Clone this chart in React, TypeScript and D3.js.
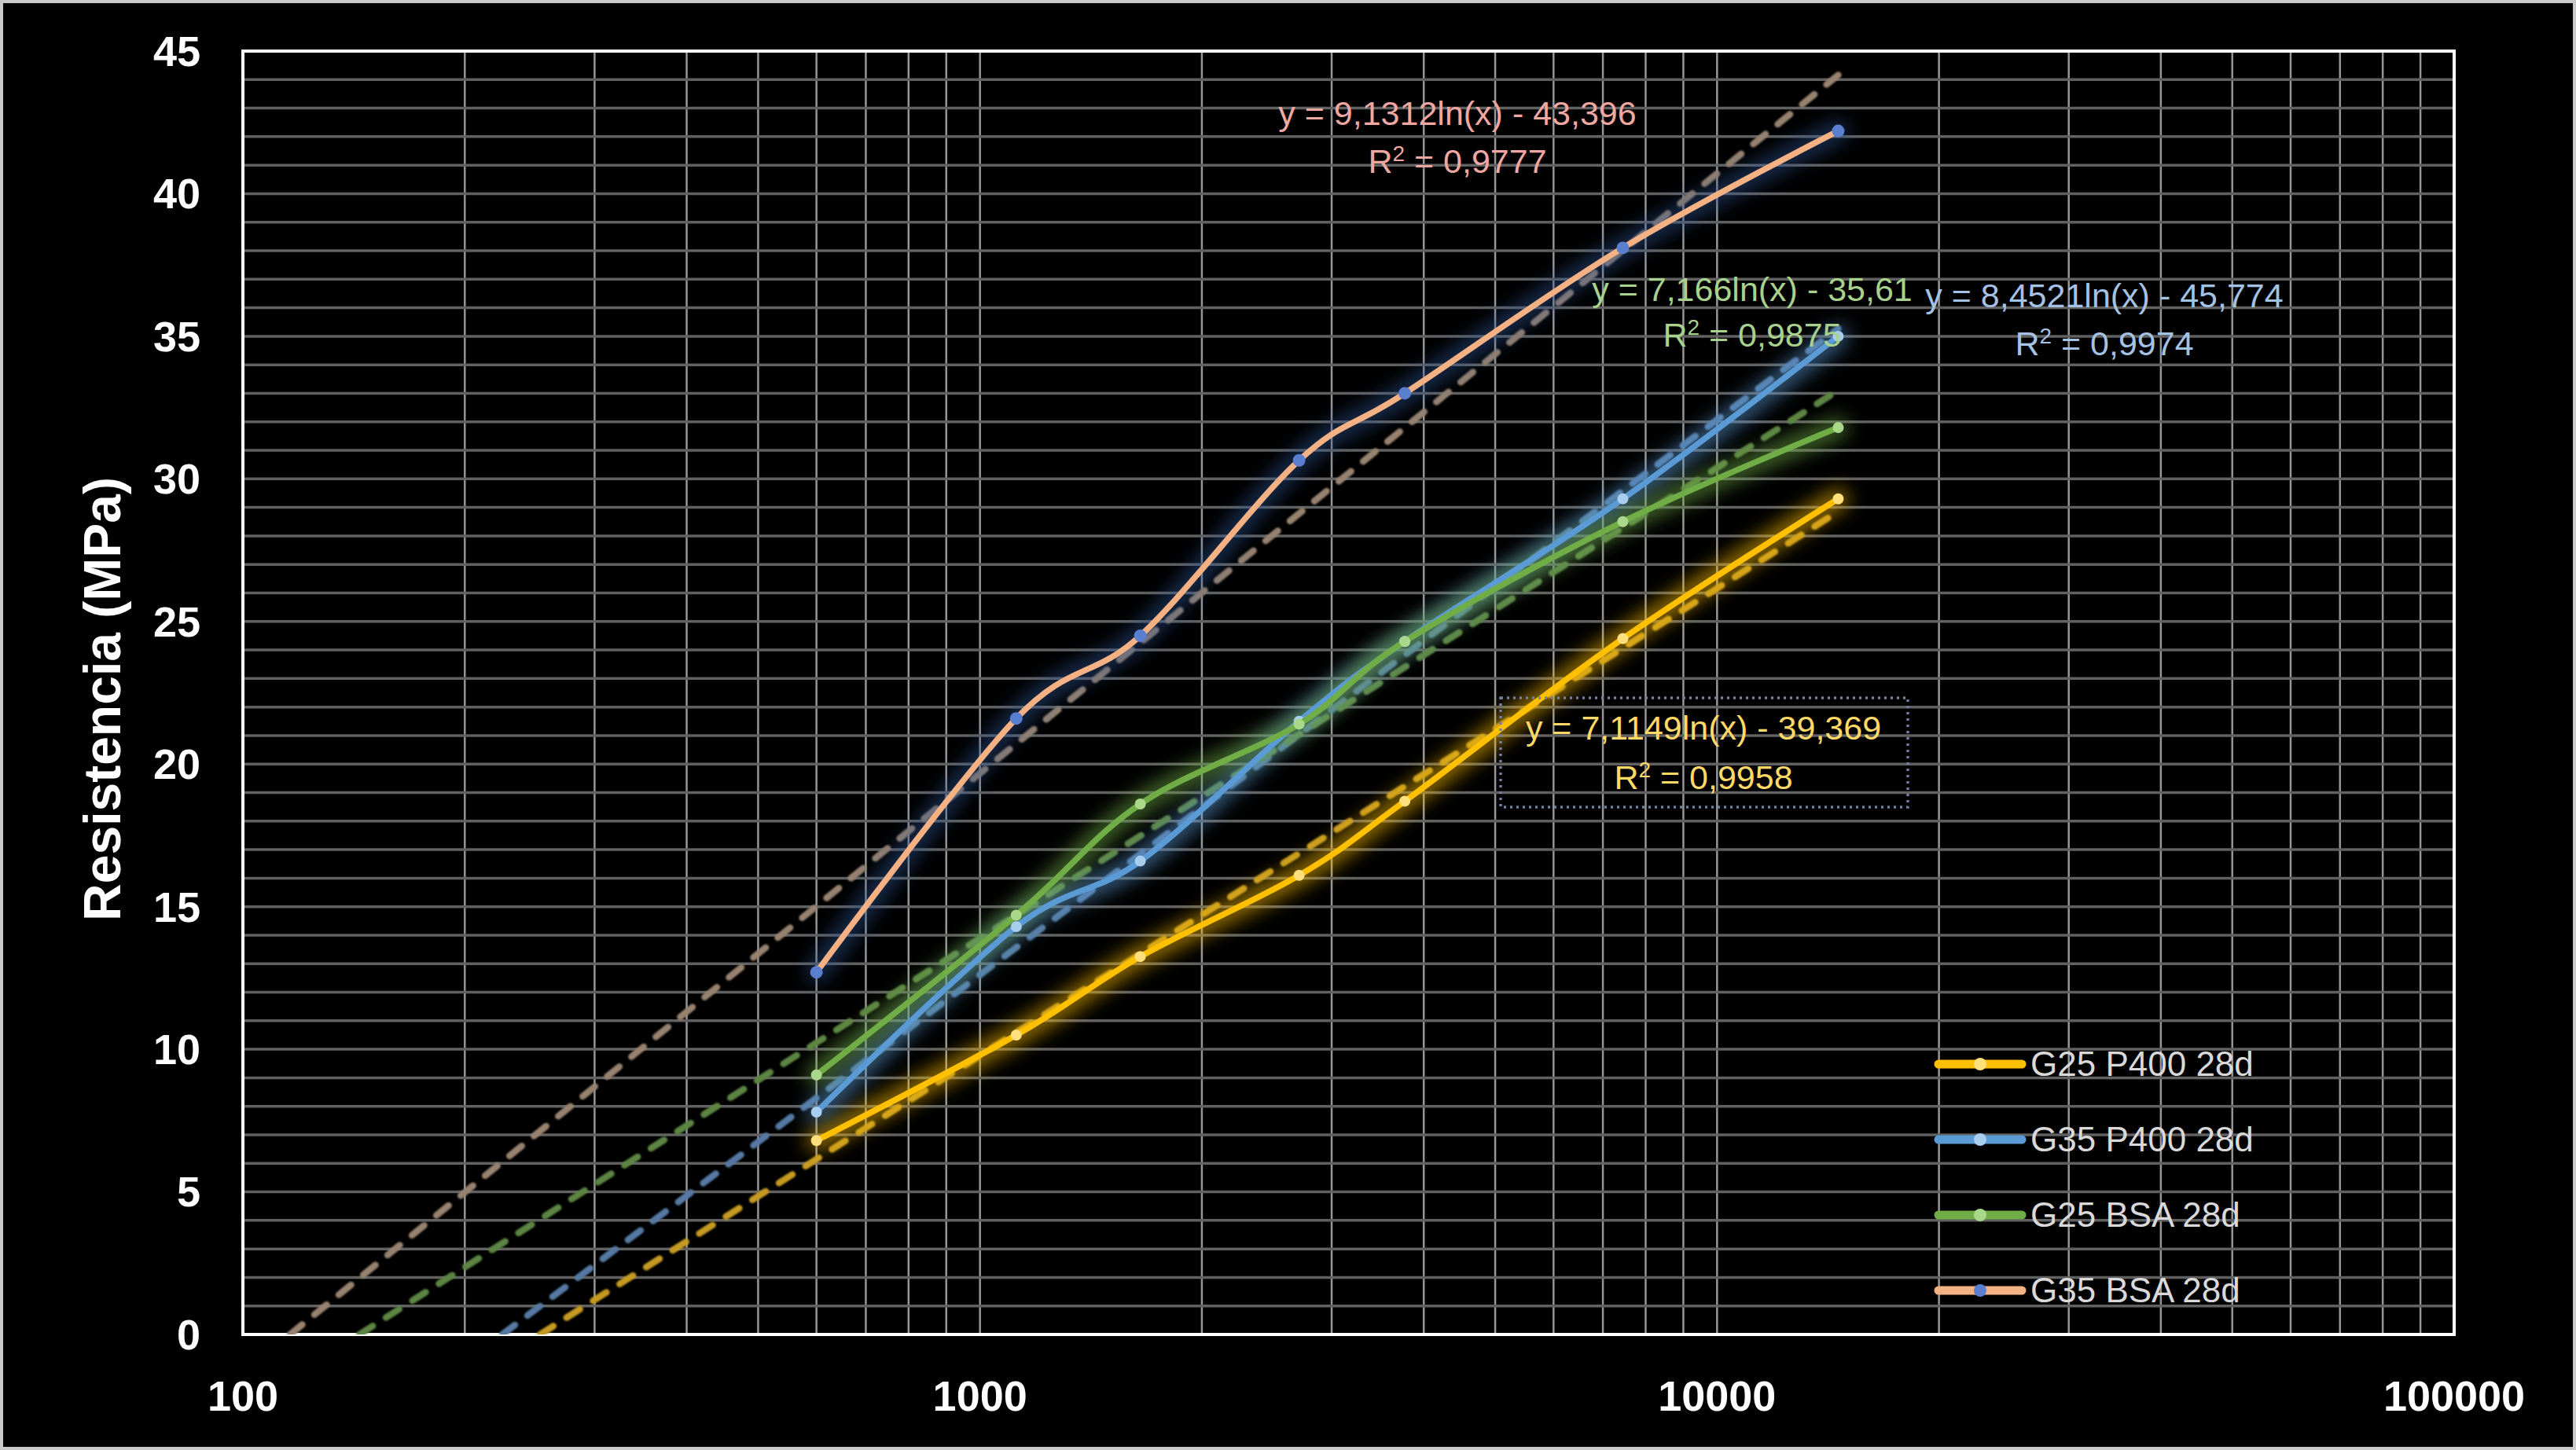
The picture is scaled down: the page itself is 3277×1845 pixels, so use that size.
import { useEffect, useRef } from "react";
import * as d3 from "d3";

const W = 3277, H = 1845;

// x values (log axis) shared by all four series
const ages = [600, 1120, 1650, 2710, 3770, 7450, 14600];
const g25P400 = [6.8, 10.5, 13.25, 16.1, 18.7, 24.4, 29.3];
const g35P400 = [7.8, 14.3, 16.6, 21.5, 24.3, 29.3, 35.0];
const g25BSA = [9.1, 14.7, 18.6, 21.4, 24.3, 28.5, 31.8];
const g35BSA = [12.7, 21.6, 24.5, 30.65, 33.0, 38.1, 42.2];

const seriesNames = ["G25 P400 28d", "G35 P400 28d", "G25 BSA 28d", "G35 BSA 28d"];
const seriesValues = [g25P400, g35P400, g25BSA, g35BSA];

// log trendlines as printed on the chart: y = a ln(x) - b
const trendA = [7.1149, 8.4521, 7.166, 9.1312];
const trendB = [39.369, 45.774, 35.61, 43.396];
const trendEq = ["y = 7,1149ln(x) - 39,369", "y = 8,4521ln(x) - 45,774", "y = 7,166ln(x) - 35,61", "y = 9,1312ln(x) - 43,396"];
const trendR2 = ["0,9958", "0,9974", "0,9875", "0,9777"];

const xTicks = [100, 1000, 10000, 100000];
const yTicks = [0, 5, 10, 15, 20, 25, 30, 35, 40, 45];

// styling
const lineColors = ["#FFC000", "#5B9BD5", "#70AD47", "#F4B183"];
const markerColors = ["#FFE07A", "#A8CDEF", "#A9D88A", "#5B7FD0"];
const glowColors = ["#FFC000", "#5B9BD5", "#70AD47", "#2F5597"];
const trendColors = ["#C49A22", "#5479A3", "#5C8443", "#97826F"];
const labelColors = ["#FFD966", "#A4C2E4", "#A9D18E", "#EFA7A2"];
// label anchor (px): centre x, first line y, second line y
const labelPos: [number, number, number][] = [
  [2167, 926, 989], [2677, 376, 437], [2229, 368, 426], [1854, 144, 205],
];

const FONT = "'Liberation Sans', Arial, sans-serif";

export default function App() {
  const ref = useRef<SVGSVGElement>(null);

  useEffect(() => {
    if (!ref.current) return;
    const svg = d3.select(ref.current).attr("width", W).attr("height", H);
    svg.selectAll("*").remove();

    const ML = 309, MR = 155, MT = 65, MB = 147;
    const iW = W - ML - MR, iH = H - MT - MB;

    const x = d3.scaleLog().domain([100, 100000]).range([0, iW]);
    const y = d3.scaleLinear().domain([0, 45]).range([iH, 0]);

    const defs = svg.append("defs");
    defs.append("filter").attr("id", "glow")
      .attr("filterUnits", "userSpaceOnUse")
      .attr("x", 0).attr("y", 0).attr("width", W).attr("height", H)
      .append("feGaussianBlur").attr("stdDeviation", 12);
    defs.append("filter").attr("id", "soft")
      .attr("filterUnits", "userSpaceOnUse")
      .attr("x", 0).attr("y", 0).attr("width", W).attr("height", H)
      .append("feGaussianBlur").attr("stdDeviation", 0.8);
    defs.append("clipPath").attr("id", "plotClip")
      .append("rect").attr("x", 0).attr("y", 0).attr("width", iW).attr("height", iH);

    // background + outer frame
    svg.append("rect").attr("x", 2).attr("y", 2).attr("width", W - 4).attr("height", H - 4)
      .attr("fill", "#000").attr("stroke", "#c9c9c9").attr("stroke-width", 4);

    const g = svg.append("g").attr("transform", `translate(${ML},${MT})`);

    // Grid
    const minorX: number[] = [];
    for (const dec of [100, 1000, 10000]) for (let k = 2; k <= 10; k++) minorX.push(k * dec);
    g.append("g").selectAll("line").data(minorX.filter(v => v < 100000)).enter().append("line")
      .attr("x1", d => x(d)).attr("x2", d => x(d)).attr("y1", 0).attr("y2", iH)
      .attr("stroke", "#969696").attr("stroke-width", 2.5);
    g.append("g").selectAll("line").data(d3.range(1, 45)).enter().append("line")
      .attr("x1", 0).attr("x2", iW).attr("y1", d => y(d)).attr("y2", d => y(d))
      .attr("stroke", "#616161").attr("stroke-width", 3.5);

    // border
    g.append("rect").attr("width", iW).attr("height", iH)
      .attr("fill", "none").attr("stroke", "#fff").attr("stroke-width", 4);

    // Axis labels
    g.append("g").selectAll("text").data(yTicks).enter().append("text")
      .attr("x", -54).attr("y", d => y(d)).attr("dy", "0.35em")
      .attr("text-anchor", "end").attr("font-family", FONT).attr("font-weight", 700)
      .attr("font-size", 54).attr("fill", "#fff").text(d => d);
    g.append("g").selectAll("text").data(xTicks).enter().append("text")
      .attr("x", d => x(d)).attr("y", iH + 78).attr("dy", "0.35em")
      .attr("text-anchor", "middle").attr("font-family", FONT).attr("font-weight", 700)
      .attr("font-size", 54).attr("fill", "#fff").text(d => d);
    svg.append("text")
      .attr("transform", `translate(130,${MT + iH / 2 + 8}) rotate(-90)`)
      .attr("text-anchor", "middle").attr("dy", "0.35em")
      .attr("font-family", FONT).attr("font-weight", 700).attr("font-size", 66)
      .attr("fill", "#fff").text("Resistencia (MPa)");

    const plot = g.append("g").attr("clip-path", "url(#plotClip)");

    // Trendlines (straight on a log-x axis): from y = 0 crossing to last x
    seriesValues.forEach((_, i) => {
      const a = trendA[i], b = trendB[i];
      const x0 = Math.exp(b / a), x1 = ages[ages.length - 1];
      const f = (v: number) => a * Math.log(v) - b;
      plot.append("line")
        .attr("x1", x(x0)).attr("y1", y(f(x0)))
        .attr("x2", x(x1)).attr("y2", y(f(x1)))
        .attr("stroke", trendColors[i]).attr("stroke-width", 8.5)
        .attr("stroke-dasharray", "20 20").attr("stroke-linecap", "round")
        .attr("filter", "url(#soft)");
    });

    const line = d3.line<[number, number]>()
      .x(d => x(d[0])).y(d => y(d[1]))
      .curve(d3.curveCardinal.tension(0));

    // glows
    seriesValues.forEach((vals, i) => {
      const pts = ages.map((a, j) => [a, vals[j]] as [number, number]);
      plot.append("path").attr("d", line(pts))
        .attr("fill", "none").attr("stroke", glowColors[i])
        .attr("stroke-width", 26).attr("stroke-opacity", i === 3 ? 0.55 : 0.6)
        .attr("stroke-linecap", "round").attr("filter", "url(#glow)");
    });

    // series lines + markers
    seriesValues.forEach((vals, i) => {
      const pts = ages.map((a, j) => [a, vals[j]] as [number, number]);
      plot.append("path").attr("d", line(pts))
        .attr("fill", "none").attr("stroke", lineColors[i])
        .attr("stroke-width", 7.5).attr("stroke-linejoin", "round");
      plot.append("g").selectAll("circle").data(pts).enter().append("circle")
        .attr("cx", d => x(d[0])).attr("cy", d => y(d[1]))
        .attr("r", i === 3 ? 8 : 7).attr("fill", markerColors[i]);
    });

    // Trendline equations
    seriesValues.forEach((_, i) => {
      const [cx, y1, y2] = labelPos[i];
      const tg = svg.append("g").attr("font-family", FONT).attr("font-size", 43)
        .attr("fill", labelColors[i]).attr("text-anchor", "middle");
      tg.append("text").attr("x", cx).attr("y", y1).attr("dy", "0.35em").text(trendEq[i]);
      const r2 = tg.append("text").attr("x", cx).attr("y", y2).attr("dy", "0.35em");
      r2.append("tspan").text("R");
      r2.append("tspan").attr("dy", -15).attr("font-size", 28).text("2");
      r2.append("tspan").attr("dy", 15).text(` = ${trendR2[i]}`);
    });
    // dotted frame around the G25 P400 equation
    svg.append("rect").attr("x", 1909).attr("y", 888).attr("width", 518).attr("height", 139)
      .attr("fill", "none").attr("stroke", "#6f7fa6").attr("stroke-width", 3.5)
      .attr("stroke-dasharray", "3 5");

    // Legend
    const lg = svg.append("g").attr("transform", "translate(2462,1354)");
    seriesNames.forEach((name, i) => {
      const row = lg.append("g").attr("transform", `translate(0,${i * 96})`);
      row.append("line").attr("x1", 4).attr("x2", 110).attr("y1", 0).attr("y2", 0)
        .attr("stroke", lineColors[i]).attr("stroke-width", 11).attr("stroke-linecap", "round");
      row.append("circle").attr("cx", 57).attr("cy", 0).attr("r", 8).attr("fill", markerColors[i]);
      row.append("text").attr("x", 121).attr("y", 0).attr("dy", "0.35em")
        .attr("font-family", FONT).attr("font-size", 44).attr("fill", "#d9d9d9").text(name);
    });
  }, []);

  return (
    <div style={{ position: "absolute", left: 0, top: 0, width: W, height: H, background: "#000" }}>
      <svg ref={ref} style={{ display: "block" }} />
    </div>
  );
}
